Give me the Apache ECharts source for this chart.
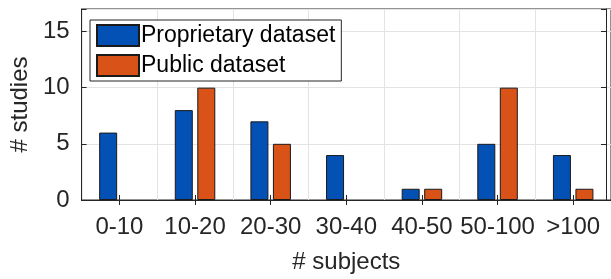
<!doctype html>
<meta charset="utf-8">
<title>subjects</title>
<style>
	body { margin: 0; background: #fff; }
	#chart { width: 611px; height: 279px; }
</style>
<div id="chart"></div>
<script src="https://cdn.jsdelivr.net/npm/echarts@6/dist/echarts.min.js"></script>
<script>
	const categories = ['0-10', '10-20', '20-30', '30-40', '40-50', '50-100', '>100'];
	const proprietary = [6, 8, 7, 4, 1, 5, 4];
	const publicData = [0, 10, 5, 0, 1, 10, 1];
	const yTicks = [0, 5, 10, 15];

	const font = 'Arial, "Liberation Sans", sans-serif';
	const txt = '#262626';
	const edge = '#262626';

	// zero-height bars are not drawn in the original
	function bars(arr) {
		return arr.map(v => v === 0 ? { value: v, itemStyle: { borderWidth: 0 } } : v);
	}

	var chart = echarts.init(document.getElementById('chart'));
	chart.setOption({
		animation: false,
		textStyle: { fontFamily: font },
		grid: {
			left: 79, right: -4, top: 9, bottom: 78,
			show: true, borderColor: edge, borderWidth: 1
		},
		legend: {
			orient: 'vertical',
			left: 90, top: 20,
			icon: 'rect',
			itemWidth: 42, itemHeight: 21, itemGap: 7,
			padding: [4, 6, 4, 6],
			borderColor: edge, borderWidth: 1,
			backgroundColor: '#fff',
			textStyle: { fontSize: 23, color: '#000', padding: [0, 0, 0, -3] },
			data: ['Proprietary dataset', 'Public dataset']
		},
		xAxis: [{
			type: 'category',
			data: categories,
			name: '# subjects',
			nameLocation: 'middle',
			nameGap: 50,
			nameTextStyle: { fontSize: 24, color: txt },
			axisLine: { lineStyle: { color: edge } },
			axisTick: { show: true, alignWithLabel: true, inside: true, length: 5, lineStyle: { color: edge } },
			axisLabel: { fontSize: 24, color: txt, margin: 15, interval: 0 },
			splitLine: { show: true, interval: 0, lineStyle: { color: '#e3e3e3' } }
		}, {
			type: 'category',
			data: categories,
			position: 'top',
			axisLine: { lineStyle: { color: edge } },
			axisTick: { show: true, alignWithLabel: true, inside: true, length: 5, lineStyle: { color: edge } },
			axisLabel: { show: false }
		}],
		yAxis: [{
			type: 'value',
			min: 0, max: 17, interval: 5,
			name: '# studies',
			nameLocation: 'middle',
			nameGap: 46,
			nameTextStyle: { fontSize: 24, color: txt },
			axisLine: { show: true, lineStyle: { color: edge } },
			axisTick: { show: true, inside: true, length: 5, lineStyle: { color: edge } },
			axisLabel: {
				fontSize: 24, color: txt, margin: 12,
				formatter: v => yTicks.indexOf(v) >= 0 ? v : ''
			},
			splitLine: { show: true, lineStyle: { color: '#e3e3e3' } }
		}, {
			type: 'value',
			min: 0, max: 17, interval: 5,
			position: 'right',
			offset: -5,
			axisLine: { show: true, lineStyle: { color: edge } },
			axisTick: { show: true, inside: true, length: 5, lineStyle: { color: edge } },
			axisLabel: { show: false },
			splitLine: { show: false }
		}],
		series: [
			{
				name: 'Proprietary dataset',
				type: 'bar',
				data: bars(proprietary),
				barWidth: 18,
				barGap: '25%',
				itemStyle: { color: '#0451B5', borderColor: '#1a1a1a', borderWidth: 1 }
			},
			{
				name: 'Public dataset',
				type: 'bar',
				data: bars(publicData),
				barWidth: 18,
				itemStyle: { color: '#D95319', borderColor: '#1a1a1a', borderWidth: 1 }
			}
		]
	});
</script>
